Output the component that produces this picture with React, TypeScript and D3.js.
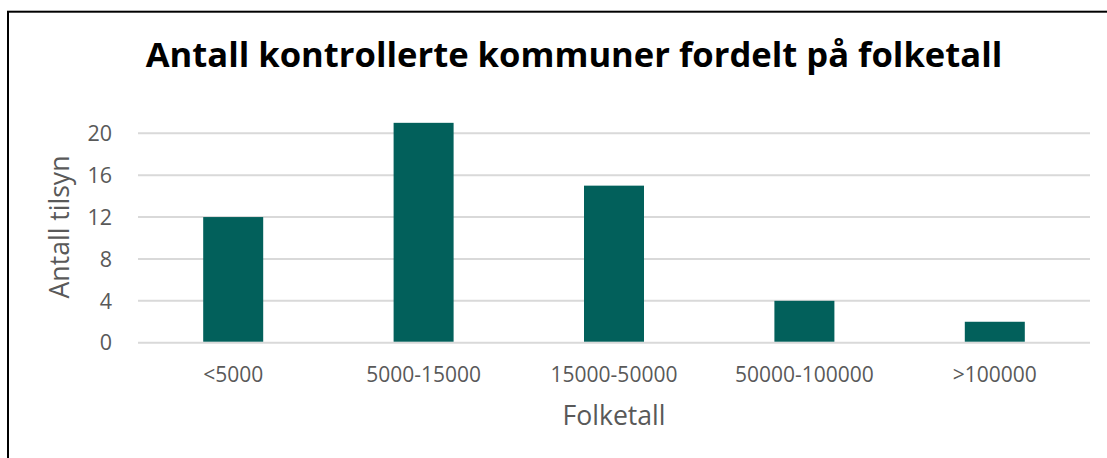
import React from "react";
import * as d3 from "d3";

const categories = ["<5000", "5000-15000", "15000-50000", "50000-100000", ">100000"];
const values = [12, 21, 15, 4, 2];
const yTicks = [0, 4, 8, 12, 16, 20];
const title = "Antall kontrollerte kommuner fordelt på folketall";
const xTitle = "Folketall";
const yTitle = "Antall tilsyn";

export default function App() {
  const W = 1107;
  const H = 458;
  const left = 138;
  const right = 1090;
  const x = d3
    .scaleBand<string>()
    .domain(categories)
    .range([left, right])
    .paddingInner(1 - 60 / 190.4)
    .paddingOuter((1 - 60 / 190.4) / 2);
  const y = d3.scaleLinear().domain([0, 20]).range([342.7, 133.3]);
  const font = "'Open Sans', sans-serif";
  const grey = "#595959";
  return (
    <svg
      width={W}
      height={H}
      style={{ position: "absolute", left: 0, top: 0, background: "#fff" }}
    >
      <rect x={0} y={0} width={W} height={H} fill="#fff" />
      <rect x={8} y={11.7} width={1300} height={700} fill="none" stroke="#000" strokeWidth={2} />
      <text
        x={574}
        y={67}
        textAnchor="middle"
        fontFamily={font}
        fontWeight={700}
        fontSize={34.6}
        fill="#000"
      >
        {title}
      </text>
      {yTicks.map((t) => (
        <g key={t}>
          <line x1={left} x2={right} y1={y(t)} y2={y(t)} stroke="#D9D9D9" strokeWidth={2} />
          <text
            x={112}
            y={y(t)}
            dy="0.36em"
            textAnchor="end"
            fontFamily={font}
            fontSize={21.5}
            fill={grey}
          >
            {t}
          </text>
        </g>
      ))}
      {categories.map((c, i) => (
        <g key={c}>
          <rect
            x={x(c)}
            y={y(values[i])}
            width={x.bandwidth()}
            height={y(0) - y(values[i]) - 1}
            fill="#02605B"
          />
          <text
            x={(x(c) as number) + x.bandwidth() / 2}
            y={381.5}
            textAnchor="middle"
            fontFamily={font}
            fontSize={21}
            fill={grey}
          >
            {c}
          </text>
        </g>
      ))}
      <text
        x={(left + right) / 2}
        y={424.5}
        textAnchor="middle"
        fontFamily={font}
        fontSize={26.6}
        fill={grey}
      >
        {xTitle}
      </text>
      <text
        transform={`translate(69,227) rotate(-90)`}
        textAnchor="middle"
        fontFamily={font}
        fontSize={26.6}
        fill={grey}
      >
        {yTitle}
      </text>
    </svg>
  );
}
